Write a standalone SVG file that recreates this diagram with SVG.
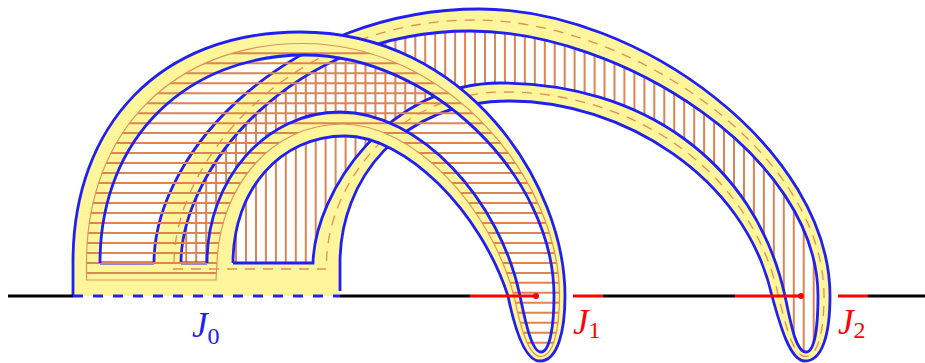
<svg xmlns="http://www.w3.org/2000/svg" width="925" height="363" viewBox="0 0 925 363">
<style>
.y{fill:#fff59b;fill-rule:evenodd;stroke:none}
.b{fill:none;stroke:#2020f0;stroke-width:2.8}
.h{stroke:#de8450;stroke-width:2;fill:none}
.c{fill:none;stroke:#de9260;stroke-width:1.2}
.d{fill:none;stroke:#de8f60;stroke-width:1.3;stroke-dasharray:10 8}
.t{font-family:"Liberation Serif",serif;font-size:35px}
.s{font-style:normal;font-size:24px}
</style>
<defs>
<clipPath id="backClip"><path d="M181,263 C181,170 290,31 470,31 C620,31 818,155 818,296 C818,325 815,352 806,352 C796,352 791,325 785,296 C755,160 640,83 500,83 C390,83 315,190 313,263 Z"/></clipPath>
<clipPath id="frontClip"><path d="M86.5,280 L86.5,263 C86.5,130 175,43.5 302.5,43.5 C448.5,43.5 559.5,179.5 559.5,296 C559.5,327.5 554,356.5 540.5,356.5 C528.5,356.5 520.5,327.5 514,296 C490,205 412.5,124 342.5,124 C272.5,124 220,185 217,263 L216,280 Z"/></clipPath>
</defs>
<g id="back-ribbon">
<path class="y" d="M154,296 L154,263 C154,150 290,9 480,9 C640,9 830,150 830,296 C830,335 822,361 805,361 C790,361 780,325 772,296 C745,175 620,101 510,101 C400,101 340,180 340,263 L340,296 Z M181,263 C181,170 290,31 470,31 C620,31 818,155 818,296 C818,325 815,352 806,352 C796,352 791,325 785,296 C755,160 640,83 500,83 C390,83 315,190 313,263 Z"/>
<g class="h" clip-path="url(#backClip)"><path d="M186.2,0V300M196.2,0V300M206.2,0V300M216.1,0V300M226.1,0V300M236,0V300M246,0V300M256,0V300M265.9,0V300M275.9,0V300M285.8,0V300M295.8,0V300M305.8,0V300M315.7,0V300M325.6,0V300M335.6,0V300M345.6,0V300M355.5,0V300M365.5,0V300M375.4,0V300M385.4,0V300M395.4,0V300M405.3,0V300M415.3,0V300M425.2,0V300M435.2,0V300M445.2,0V300M455.1,0V300M465.1,0V300M475,0V300M485,0V300M495,0V300M504.9,0V300M514.9,0V300M524.8,0V300M534.8,0V300M544.8,0V300M554.7,0V300M564.7,0V300M574.6,0V300M584.6,0V300M594.6,0V300M604.5,0V300M614.5,0V300M624.4,0V300M634.4,0V300M644.4,0V300M654.3,0V300M664.3,0V300M674.2,0V300M684.2,0V300M694.2,0V300M704.1,0V300M714.1,0V300M724,0V300M734,0V300M744,0V300M753.9,0V300M763.9,0V363M773.8,0V363M783.8,0V363M793.8,0V363M803.7,0V363M813.7,0V363"/></g>
<path class="y" d="M73,263H340V296H73Z"/>
<path class="b" d="M154,263 C154,150 290,9 480,9 C640,9 830,150 830,296 C830,335 822,361 805,361 C790,361 780,325 772,296 C745,175 620,101 510,101 C400,101 340,180 340,263 L340,291"/>
<path class="b" d="M181,263 C181,170 290,31 470,31 C620,31 818,155 818,296 C818,325 815,352 806,352 C796,352 791,325 785,296 C755,160 640,83 500,83 C390,83 315,190 313,263 L233,263"/>
<path class="d" d="M174,263 C174,160 292,20 475,20 C630,20 824,152.5 824,296 C824,330 818.5,356.5 805.5,356.5 C793,356.5 785.5,325 778.5,296 C750,167.5 630,92 505,92 C395,92 327.5,185 326.5,263"/>
</g>
<g id="front-ribbon">
<path class="y" d="M73,296 L73,262 C73,125 160,32 300,32 C467,32 565,184 565,296 C565,330 558,361 540,361 C525,361 515,330 508,296 C480,210 405,136 345,136 C280,136 233,190 233,263 L233,296 Z M100,263 C100,135 190,55 305,55 C430,55 554,175 554,296 C554,325 550,352 541,352 C532,352 526,325 520,296 C500,200 420,112 340,112 C265,112 207,180 207,263 Z"/>
<path d="M100,263H154M181,263H207" fill="none" stroke="#2020f0" stroke-width="2.8"/>
<g class="h" clip-path="url(#frontClip)"><path d="M60,53.3H600M60,63.3H600M60,73.3H600M60,83.2H600M60,93.2H600M60,103.2H600M60,113.2H600M60,123.2H600M60,133.1H600M60,143.1H600M60,153.1H600M60,163.1H600M60,173.1H600M60,183H600M60,193H600M60,203H600M60,213H600M60,223H600M60,232.9H600M60,242.9H600M60,252.9H600M60,262.9H600M60,272.9H600M440,282.8H600M440,292.8H600M440,302.8H600M440,312.8H600M440,322.8H600M440,332.7H600M440,342.7H600"/></g>
<path class="c" d="M86.5,280 L86.5,263 C86.5,130 175,43.5 302.5,43.5 C448.5,43.5 559.5,179.5 559.5,296 C559.5,327.5 554,356.5 540.5,356.5 C528.5,356.5 520.5,327.5 514,296 C490,205 412.5,124 342.5,124 C272.5,124 220,185 217,263 L216,280 Z"/>
<path class="b" d="M73,296 L73,262 C73,125 160,32 300,32 C467,32 565,184 565,296 C565,330 558,361 540,361 C525,361 515,330 508,296 C480,210 405,136 345,136 C280,136 233,190 233,263"/>
<path class="b" d="M100,263 C100,135 190,55 305,55 C430,55 554,175 554,296 C554,325 550,352 541,352 C532,352 526,325 520,296 C500,200 420,112 340,112 C265,112 207,180 207,263"/>
<path class="d" d="M173,269H326"/>
</g>
<g id="connectors">
<path d="M8,296H73M340,296H470M603,296H735M868,296H925" stroke="#000" stroke-width="2.8" fill="none"/>
<path d="M73,296H340" stroke="#2020f0" stroke-width="2.8" stroke-dasharray="10 10" fill="none"/>
<path d="M470,296H536M573,296H603M735,296H801M838,296H868" stroke="#f00" stroke-width="2.8" fill="none"/>
<circle cx="536" cy="296" r="3" fill="#f00"/>
<circle cx="801" cy="296" r="3" fill="#f00"/>
</g>
<g id="label-J0"><text class="t" x="192" y="337" fill="#2020f0" font-style="italic">J<tspan class="s" dy="7">0</tspan></text></g>
<g id="label-J1"><text class="t" x="573" y="334" fill="#f00" font-style="italic">J<tspan class="s" dy="4">1</tspan></text></g>
<g id="label-J2"><text class="t" x="838" y="334" fill="#f00" font-style="italic">J<tspan class="s" dy="4">2</tspan></text></g>
</svg>
